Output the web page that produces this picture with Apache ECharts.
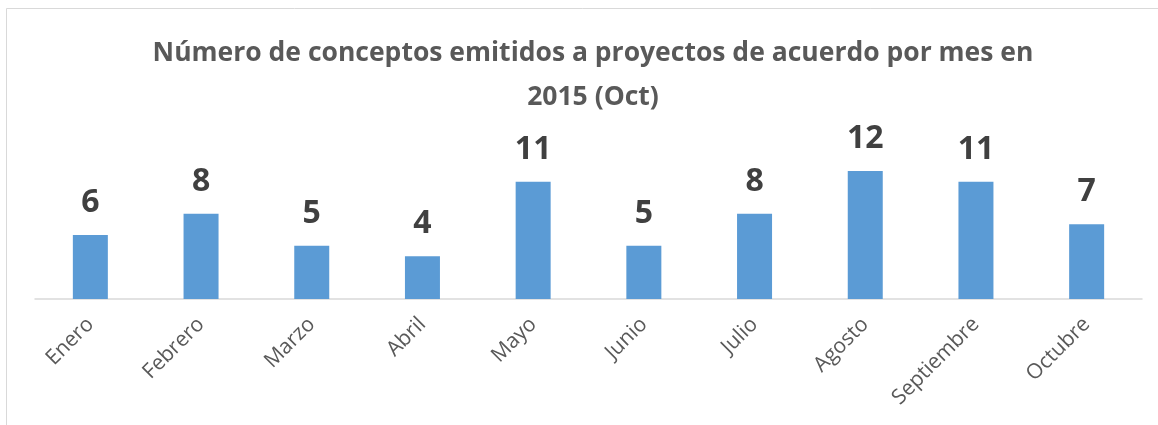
<!DOCTYPE html>
<html>
<head>
<meta charset="utf-8">
<title>Conceptos emitidos 2015</title>
<script src="https://cdn.jsdelivr.net/npm/echarts@6/dist/echarts.min.js"></script>
<style>
  html, body { margin: 0; padding: 0; background: #fff; }
  #chart { width: 1158px; height: 425px; }
</style>
</head>
<body>
<div id="chart"></div>
<script>
// datos
var meses = ['Enero', 'Febrero', 'Marzo', 'Abril', 'Mayo', 'Junio', 'Julio', 'Agosto', 'Septiembre', 'Octubre']
var conceptos = [6, 8, 5, 4, 11, 5, 8, 12, 11, 7]

var myChart = echarts.init(document.getElementById('chart'))
myChart.setOption({
  animation: false,
  backgroundColor: '#fff',
  textStyle: { fontFamily: 'Open Sans' },
  title: {
    text: 'Número de conceptos emitidos a proyectos de acuerdo por mes en\n2015 (Oct)',
    left: 588,
    textAlign: 'center',
    top: 26,
    textStyle: {
      color: '#595959',
      fontSize: 26.5,
      fontWeight: 'bold',
      lineHeight: 44,
      fontFamily: 'Open Sans'
    }
  },
  // marco del grafico
  graphic: [{
    type: 'rect',
    shape: { x: 6.5, y: 8.5, width: 1200, height: 500 },
    style: { fill: 'none', stroke: '#d9d9d9', lineWidth: 1 },
    silent: true
  }],
  grid: {
    left: 35,
    right: 16,
    top: 171,
    bottom: 126
  },
  xAxis: {
    type: 'category',
    data: meses,
    axisLine: { lineStyle: { color: '#d9d9d9', width: 1.5 } },
    axisTick: { show: false },
    axisLabel: {
      rotate: 45,
      margin: 22,
      interval: 0,
      color: '#595959',
      fontSize: 21,
      fontFamily: 'Open Sans'
    }
  },
  yAxis: {
    type: 'value',
    min: 0,
    max: 12,
    show: false,
    splitLine: { show: false }
  },
  series: [{
    type: 'bar',
    data: conceptos,
    barWidth: 35,
    itemStyle: { color: '#5b9bd5' },
    label: {
      show: true,
      position: 'top',
      distance: 16,
      color: '#404040',
      fontSize: 32,
      fontWeight: 'bold',
      fontFamily: 'Open Sans'
    }
  }]
})
</script>
</body>
</html>
